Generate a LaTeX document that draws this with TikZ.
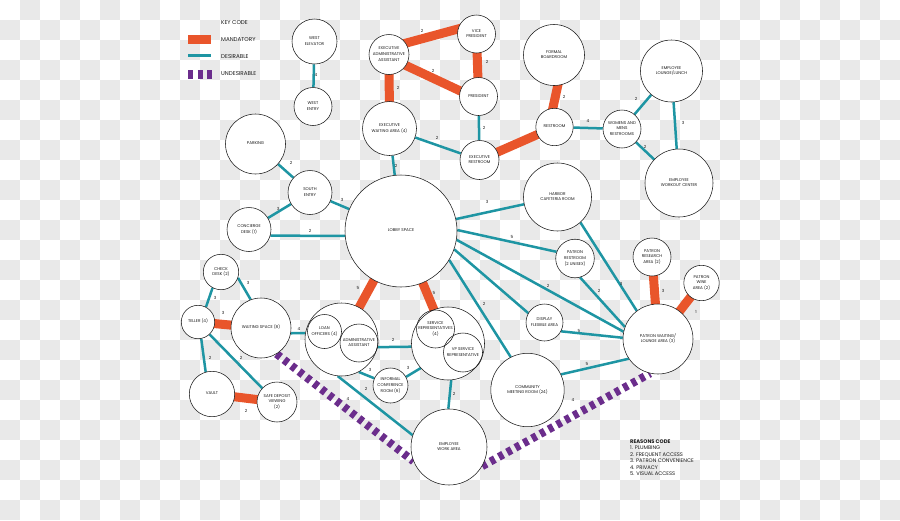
\documentclass[tikz,border=0pt]{standalone}
\usepackage{fontspec}
\setmainfont{Poppins}
\definecolor{orangec}{RGB}{233,85,43}
\definecolor{tealc}{RGB}{30,149,163}
\definecolor{purplec}{RGB}{107,45,140}
\definecolor{checkc}{RGB}{233,233,233}
\definecolor{inkc}{RGB}{25,25,25}
\pgfdeclarelayer{bgzero}
\pgfdeclarelayer{bgone}
\pgfsetlayers{bgzero,bgone,main}
\newcommand\roomfont{\fontsize{4.1}{5.8}\selectfont}
\newcommand\numfont{\fontsize{4.2}{5}\selectfont}
\newcommand\keyfont{\fontsize{5.6}{7}\selectfont}
\newcommand\rt[1]{\makebox[0pt][c]{\raisebox{-1pt}[0pt][0pt]{\begin{tabular}{@{}c@{}}#1\end{tabular}}}}
\begin{document}
\begin{tikzpicture}[x=1pt,y=-1pt,line join=round,
  room/.style={circle,draw=inkc,line width=0.55pt,fill=white,inner sep=0pt,font=\roomfont,text=inkc},
  inner/.style={fill=none},
  rad/.style={minimum size=#1*2pt},
  mand/.style={draw=orangec,line width=9pt,shorten <=-4pt,shorten >=-4pt},
  des/.style={draw=tealc,line width=2.5pt},
  undes/.style={draw=purplec,line width=8pt,dash pattern=on 5pt off 4.5pt},
  num/.style={font=\numfont,inner sep=0pt,text=inkc},
  keytxt/.style={font=\keyfont,anchor=west,inner sep=0pt,text=inkc}]
\useasboundingbox (0,0) rectangle (900,520);
\begin{pgfonlayer}{bgzero}
\fill[white] (0,0) rectangle (900,520);
\foreach \i in {0,...,44}{\foreach \j in {0,...,25}{%
  \pgfmathtruncatemacro\ckp{mod(\i+\j,2)}%
  \ifnum\ckp=1 \fill[checkc] (\i*20,\j*20) rectangle ++(20,20);\fi}}
\end{pgfonlayer}
% rooms
\node[room,rad=22.5] (welev) at (314.5,41.5) {\rt{WEST\\ELEVATOR}};
\node[room,rad=19] (wentry) at (313,106.5) {\rt{WEST\\ENTRY}};
\node[room,rad=20] (eadmin) at (389,54.5) {\rt{EXECUTIVE\\ADMINISTRATIVE\\ASSISTANT}};
\node[room,rad=19] (vp) at (476.5,34) {\rt{VICE\\PRESIDENT}};
\node[room,rad=19] (pres) at (478.5,96.5) {\rt{PRESIDENT}};
\node[room,rad=27] (ewait) at (389.5,128.5) {\rt{EXECUTIVE\\WAITING AREA (4)}};
\node[room,rad=19.5] (erest) at (479.5,160) {\rt{EXECUTIVE\\RESTROOM}};
\node[room,rad=30.5] (board) at (554,55) {\rt{FORMAL\\BOARDROOM}};
\node[room,rad=18.7] (rest) at (554.5,127) {\rt{RESTROOM}};
\node[room,rad=19] (wm) at (622,129) {\rt{WOMENS AND\\MENS\\RESTROOMS}};
\node[room,rad=31] (lounge) at (671.5,71) {\rt{EMPLOYEE\\LOUNGE/LUNCH}};
\node[room,rad=34] (workout) at (679,183) {\rt{EMPLOYEE\\WORKOUT CENTER}};
\node[room,rad=34] (harbor) at (557.5,197) {\rt{HARBOR\\CAFETERIA ROOM}};
\node[room,rad=30] (parking) at (255.5,144) {\rt{PARKING}};
\node[room,rad=22] (south) at (310,192.5) {\rt{SOUTH\\ENTRY}};
\node[room,rad=22] (conc) at (249,229.5) {\rt{CONCIERGE\\DESK (1)}};
\node[room,rad=56] (lobby) at (401,231) {\rt{LOBBY SPACE}};
\node[room,rad=19.3] (prest) at (575,258.5) {\rt{PATRON\\RESTROOM\\(2 UNISEX)}};
\node[room,rad=18.5] (display) at (544.5,322.5) {\rt{DISPLAY\\FLEXIBLE AREA}};
\node[room,rad=19] (research) at (652,257) {\rt{PATRON\\RESEARCH\\AREA (2)}};
\node[room,rad=17.7] (wine) at (701.5,283) {\rt{PATRON\\WINE\\AREA (2)}};
\node[room,rad=35] (pwait) at (658,339) {\rt{PATRON WAITING/\\LOUNGE AREA (3)}};
\node[room,rad=36.7] (community) at (527.5,390) {\rt{COMMUNITY\\MEETING ROOM (24)}};
\node[room,rad=38] (work) at (449,447) {\rt{EMPLOYEE\\WORK AREA}};
\node[room,rad=17.7] (check) at (221,272) {\rt{CHECK\\DESK (2)}};
\node[room,rad=16.7] (teller) at (198,322) {\rt{TELLER (4)}};
\node[room,rad=30] (wspace) at (261,328) {\rt{WAITING SPACE (8)}};
\node[room,rad=22.7] (vault) at (212,394) {\rt{VAULT}};
\node[room,rad=20] (safe) at (277,402) {\rt{SAFE DEPOSIT\\VIEWING\\(2)}};
\node[room,rad=36.5] (loangrp) at (341.5,339.5) {};
\node[room,inner,rad=17] (loan) at (324.5,331.5) {\rt{LOAN\\OFFICERS (4)}};
\node[room,inner,rad=19] (admin) at (359,343) {\rt{ADMINISTRATIVE\\ASSISTANT}};
\node[room,rad=36.5] (servgrp) at (448,343.5) {};
\node[room,inner,rad=19] (serv) at (435.5,329) {\rt{SERVICE\\REPRESENTATIVES\\(4)}};
\node[room,inner,rad=19.5] (vpserv) at (463,352.5) {\rt{VP SERVICE\\REPRESENTATIVE}};
\node[room,rad=17.5] (informal) at (390.5,385.5) {\rt{INFORMAL\\CONFERENCE\\ROOM (6)}};
% connectors
\begin{pgfonlayer}{bgone}
\draw[des] (welev) -- (wentry);
\draw[mand] (eadmin.34) -- (vp.165);
\draw[mand] (eadmin.-33) -- (pres.163);
\draw[mand] (vp) -- (pres);
\draw[mand] (eadmin) -- (ewait);
\draw[des] (pres) -- (erest);
\draw[des] (ewait) -- (erest);
\draw[des] (ewait) -- (lobby);
\draw[mand] (erest) -- (rest);
\draw[mand] (board.-83) -- (rest.95);
\draw[des] (rest) -- (wm);
\draw[des] (wm) -- (lounge);
\draw[des] (wm) -- (workout);
\draw[des] (lounge) -- (workout);
\draw[des] (parking) -- (south);
\draw[des] (south) -- (lobby);
\draw[des] (south) -- (conc);
\draw[des] (conc.-16) -- (lobby.185);
\draw[des] (lobby) -- (harbor);
\draw[des] (lobby.1) -- (prest.160);
\draw[des] (lobby.-9) -- (pwait.168);
\draw[des] (lobby.-19) -- (display.150);
\draw[des] (lobby.-31) -- (community.117);
\draw[des] (harbor.-48) -- (pwait.127);
\draw[des] (prest.-75) -- (pwait.160);
\draw[des] (display.-28) -- (pwait.178);
\draw[des] (community.25) -- (pwait.214);
\draw[mand] (research) -- (pwait);
\draw[mand] (wine) -- (pwait);
\draw[mand] (lobby) -- (loangrp);
\draw[mand] (lobby) -- (servgrp);
\draw[des] (check.-19) -- (wspace.110);
\draw[des] (check.242) -- (teller.62);
\draw[mand] (teller) -- (wspace);
\draw[des] (teller.-79) -- (vault.106);
\draw[des] (teller.-47) -- (safe.137);
\draw[mand] (vault) -- (safe);
\draw[des] (wspace.-10) -- (loangrp.170);
\draw[des] (loangrp.-12) -- (servgrp.185);
\draw[des] (loangrp.-62) -- (informal.156);
\draw[des] (servgrp.222) -- (informal.29);
\draw[des] (servgrp.-85) -- (work.91);
\draw[des] (loangrp.264) -- (work.162);
\draw[undes] (wspace.-59) -- (work.202);
\draw[undes] (work.-30) -- (pwait.257);
\end{pgfonlayer}
% reason numbers
\node[num] (n1) at (316,75) {4};
\node[num] (n2) at (422,31) {2};
\node[num] (n3) at (433,71) {2};
\node[num] (n4) at (487,62) {2};
\node[num] (n5) at (398,88) {2};
\node[num] (n6) at (484,128) {2};
\node[num] (n7) at (396,166) {2};
\node[num] (n8) at (437,138) {2};
\node[num] (n9) at (564,97) {2};
\node[num] (n10) at (588,121) {4};
\node[num] (n11) at (636,99) {2};
\node[num] (n12) at (645,147) {2};
\node[num] (n13) at (683,123) {3};
\node[num] (n14) at (291,163) {2};
\node[num] (n15) at (342,200) {3};
\node[num] (n16) at (278,209) {3};
\node[num] (n17) at (310,231) {2};
\node[num] (n18) at (487,202) {3};
\node[num] (n19) at (512,237) {5};
\node[num] (n20) at (548,286) {2};
\node[num] (n21) at (484,304) {2};
\node[num] (n22) at (621,284) {3};
\node[num] (n23) at (599,291) {2};
\node[num] (n24) at (579,331) {5};
\node[num] (n25) at (587,364) {5};
\node[num] (n26) at (663,291) {3};
\node[num] (n27) at (696,312) {1};
\node[num] (n28) at (248,283) {3};
\node[num] (n29) at (215,298) {3};
\node[num] (n30) at (223,313) {3};
\node[num] (n31) at (210,358) {2};
\node[num] (n32) at (241,358) {2};
\node[num] (n33) at (246,411) {2};
\node[num] (n34) at (299,329) {4};
\node[num] (n35) at (358,288) {5};
\node[num] (n36) at (434,293) {5};
\node[num] (n37) at (393,340) {2};
\node[num] (n38) at (370,370) {3};
\node[num] (n39) at (408,368) {3};
\node[num] (n40) at (366,389) {2};
\node[num] (n41) at (454,394) {2};
\node[num] (n42) at (348,399) {4};
\node[num] (n43) at (573,400) {4};
% key code
\node[keytxt] (kc) at (221,23) {KEY CODE};
\coordinate (km1) at (188,39); \coordinate (km2) at (211,39);
\draw[draw=orangec,line width=9pt] (km1) -- (km2);
\node[keytxt] (kmt) at (221,40) {MANDATORY};
\coordinate (kd1) at (188,55.5); \coordinate (kd2) at (211,55.5);
\draw[des] (kd1) -- (kd2);
\node[keytxt] (kdt) at (221,57) {DESIRABLE};
\coordinate (ku1) at (188,74.5); \coordinate (ku2) at (212,74.5);
\draw[undes,line width=9pt] (ku1) -- (ku2);
\node[keytxt] (kut) at (221,74) {UNDESIRABLE};
% reasons code
\node[font=\fontsize{5.2}{6.5}\selectfont,anchor=north west,align=left,inner sep=0pt,text=inkc] (reasons) at (630,439.5)
  {\textbf{REASONS CODE}\\1. PLUMBING\\2. FREQUENT ACCESS\\3. PATRON CONVENIENCE\\4. PRIVACY\\5. VISUAL ACCESS};
\end{tikzpicture}
\end{document}
